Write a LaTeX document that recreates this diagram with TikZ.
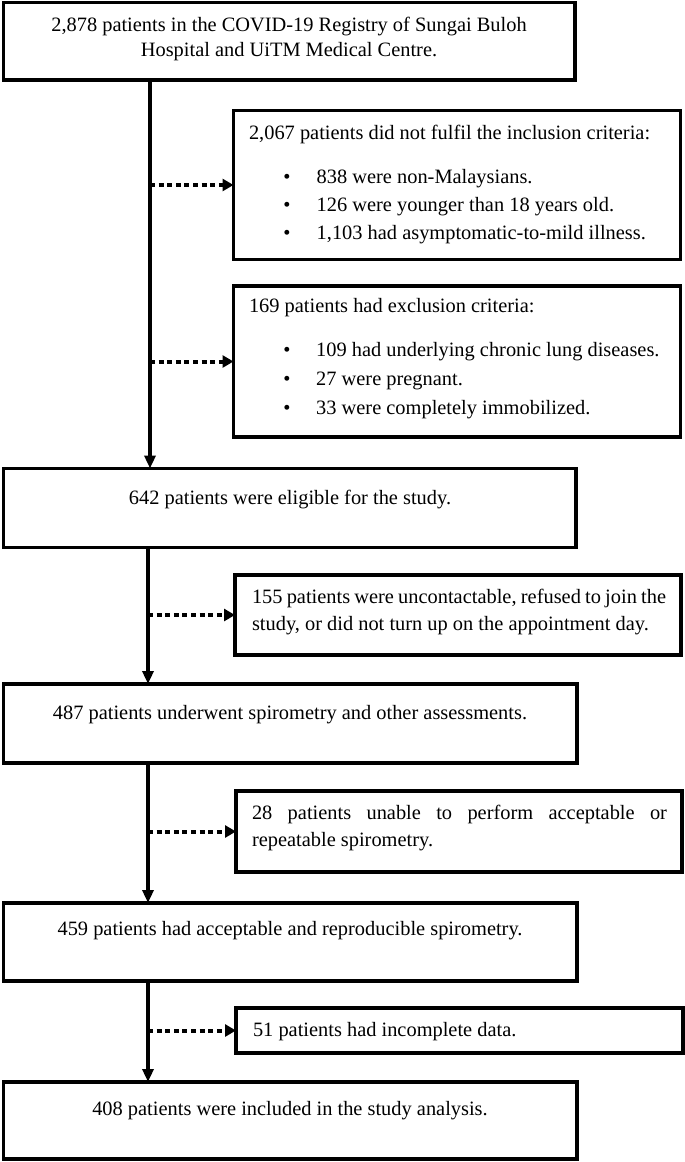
\documentclass[tikz,border=0pt]{standalone}
\usepackage{fontspec}
\setmainfont{Liberation Serif}
\usetikzlibrary{arrows.meta}
\begin{document}
\begin{tikzpicture}[x=1pt,y=-1pt,
  boxst/.style={draw=black, line width=3.8pt, inner sep=0pt, outer sep=0pt, anchor=north west},
  txt/.style={font=\fontsize{20.4pt}{26pt}\selectfont, inner sep=0pt, outer sep=0pt},
  mainarr/.style={line width=3.3pt, -{Triangle[length=13pt,width=11pt]}},
  dotarr/.style={line width=4pt, dash pattern=on 5pt off 3.6pt, -{Triangle[length=11pt,width=12pt]}},
]
\fill[white] (0,0) rectangle (685,1162);
\path[use as bounding box] (0,0) rectangle (685,1162);
\coordinate (xl) at (150,0);
\coordinate (xm) at (148,0);

% boxes
\node[boxst, minimum width=571.5pt, minimum height=77.5pt] (top) at (3.5,2.5) {};
\node[boxst, minimum width=447pt, minimum height=149pt] (A) at (233.5,110.5) {};
\node[boxst, minimum width=447pt, minimum height=151pt] (B) at (233.5,286) {};
\node[boxst, minimum width=572.5pt, minimum height=79pt] (b642) at (3.5,468.5) {};
\node[boxst, minimum width=446pt, minimum height=80pt] (C) at (235,575) {};
\node[boxst, minimum width=573.5pt, minimum height=79pt] (b487) at (3.5,684) {};
\node[boxst, minimum width=446pt, minimum height=81pt] (D) at (236,791) {};
\node[boxst, minimum width=573.5pt, minimum height=78pt] (b459) at (3.5,903) {};
\node[boxst, minimum width=447pt, minimum height=45pt] (E) at (236,1008) {};
\node[boxst, minimum width=573.5pt, minimum height=77pt] (b408) at (3.5,1082) {};

% texts
\node[txt, anchor=base] (t1a) at (289,31.7) {2,878 patients in the COVID-19 Registry of Sungai Buloh};
\node[txt, anchor=base] (t1b) at (289,56.5) {Hospital and UiTM Medical Centre.};

\node[txt, anchor=base west] (tA) at (249,139) {2,067 patients did not fulfil the inclusion criteria:};
\node[txt, anchor=base] (bA1) at (287,183) {•};
\node[txt, anchor=base] (bA2) at (287,211) {•};
\node[txt, anchor=base] (bA3) at (287,239) {•};
\node[txt, anchor=base west] (iA1) at (316.7,183) {838 were non-Malaysians.};
\node[txt, anchor=base west] (iA2) at (316.7,211) {126 were younger than 18 years old.};
\node[txt, anchor=base west] (iA3) at (316.7,239) {1,103 had asymptomatic-to-mild illness.};

\node[txt, anchor=base west] (tB) at (249,312.7) {169 patients had exclusion criteria:};
\node[txt, anchor=base] (bB1) at (287,356.7) {•};
\node[txt, anchor=base] (bB2) at (287,385.7) {•};
\node[txt, anchor=base] (bB3) at (287,414) {•};
\node[txt, anchor=base west] (iB1) at (316.2,356.7) {109 had underlying chronic lung diseases.};
\node[txt, anchor=base west] (iB2) at (316.2,385.7) {27 were pregnant.};
\node[txt, anchor=base west] (iB3) at (316.2,414) {33 were completely immobilized.};

\node[txt, anchor=base] (t642) at (290,504) {642 patients were eligible for the study.};

\node[txt, anchor=base west] (tC1) at (252,603.3) {\makebox[414pt][s]{155 patients were uncontactable, refused to join the}};
\node[txt, anchor=base west] (tC2) at (252,630) {study, or did not turn up on the appointment day.};

\node[txt, anchor=base] (t487) at (290,719) {487 patients underwent spirometry and other assessments.};

\node[txt, anchor=base west] (tD1) at (252,819.3) {\makebox[415pt][s]{28 patients unable to perform acceptable or}};
\node[txt, anchor=base west] (tD2) at (252,846) {repeatable spirometry.};

\node[txt, anchor=base] (t459) at (290,935) {459 patients had acceptable and reproducible spirometry.};

\node[txt, anchor=base west] (tE) at (253,1036) {51 patients had incomplete data.};

\node[txt, anchor=base] (t408) at (290,1115) {408 patients were included in the study analysis.};

% main flow arrows
\draw[mainarr] (top.south -| xl) -- (b642.north -| xl);
\draw[mainarr] (b642.south -| xm) -- (b487.north -| xm);
\draw[mainarr] (b487.south -| xm) -- (b459.north -| xm);
\draw[mainarr] (b459.south -| xm) -- (b408.north -| xm);

% exclusion arrows
\draw[dotarr] (xl |- A.west) -- (A.west);
\draw[dotarr] (xl |- B.west) -- (B.west);
\draw[dotarr] (xm |- C.west) -- (C.west);
\draw[dotarr] (xm |- D.west) -- (D.west);
\draw[dotarr] (xm |- E.west) -- (E.west);
\end{tikzpicture}
\end{document}
